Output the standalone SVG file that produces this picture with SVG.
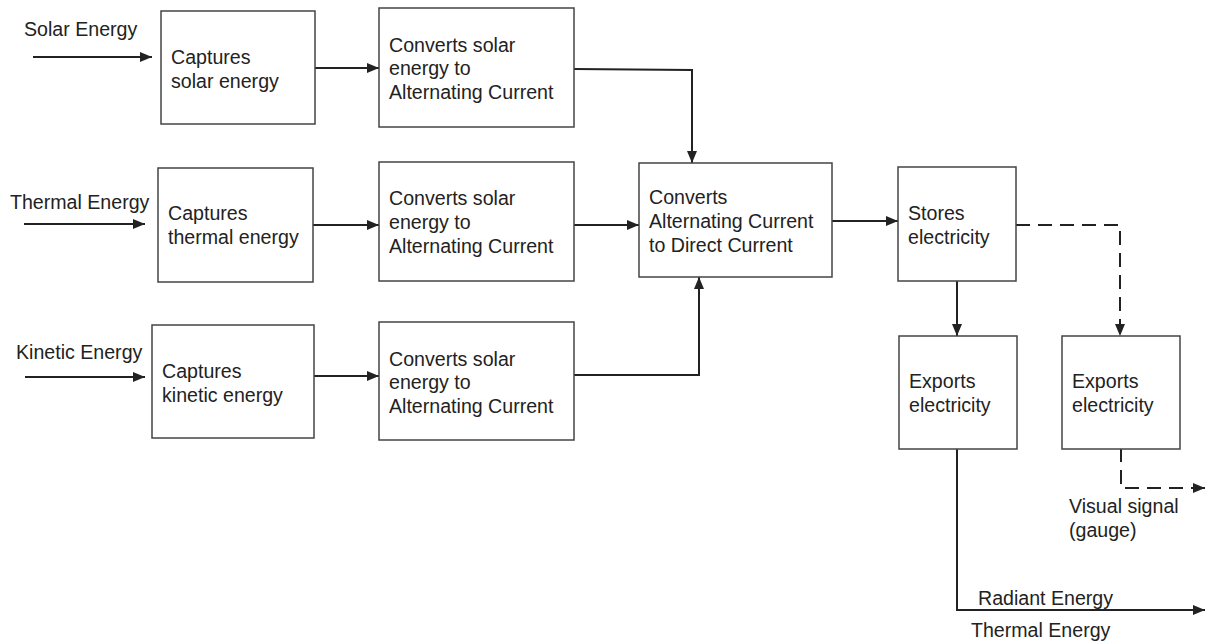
<svg xmlns="http://www.w3.org/2000/svg" width="1208" height="642" viewBox="0 0 1208 642">
<style>
.box{fill:#fff;stroke:#444;stroke-width:1.5}
.t{font-family:"Liberation Sans",Arial,sans-serif;font-size:19.6px;fill:#222}
.c{fill:none;stroke:#222;stroke-width:2}
.d{fill:none;stroke:#222;stroke-width:2;stroke-dasharray:14 8}
</style>
<defs>
<marker id="ah" viewBox="0 0 12 10" refX="12" refY="5" markerWidth="12" markerHeight="10" markerUnits="userSpaceOnUse" orient="auto">
<path d="M0,0 L12,5 L0,10 z" fill="#222"/>
</marker>
</defs>
<rect width="1208" height="642" fill="#fff"/>
<g id="labels">
<text class="t" x="24" y="36">Solar Energy</text>
<text class="t" x="10" y="209">Thermal Energy</text>
<text class="t" x="16" y="359">Kinetic Energy</text>
<text class="t" x="978" y="605">Radiant Energy</text>
<text class="t" x="971" y="637">Thermal Energy</text>
<text class="t" x="1069" y="513">Visual signal</text>
<text class="t" x="1069" y="537">(gauge)</text>
</g>
<g id="connectors">
<path class="c" d="M33,57 H152" marker-end="url(#ah)"/>
<path class="c" d="M24,224 H145" marker-end="url(#ah)"/>
<path class="c" d="M25,377 H145" marker-end="url(#ah)"/>
<path class="c" d="M315,68 H379" marker-end="url(#ah)"/>
<path class="c" d="M313,225 H379" marker-end="url(#ah)"/>
<path class="c" d="M314,376 H379" marker-end="url(#ah)"/>
<path class="c" d="M574,69 L692,70 V163" marker-end="url(#ah)"/>
<path class="c" d="M574,225 H639" marker-end="url(#ah)"/>
<path class="c" d="M574,375 H699 V277" marker-end="url(#ah)"/>
<path class="c" d="M832,221 H898" marker-end="url(#ah)"/>
<path class="c" d="M957,281 V336" marker-end="url(#ah)"/>
<path class="d" d="M1016,225 H1120 V336" marker-end="url(#ah)"/>
<path class="c" d="M957,449 V610 H1205" marker-end="url(#ah)"/>
<path class="d" d="M1121,448 V488 H1205" marker-end="url(#ah)"/>
</g>
<g id="capSolar"><rect class="box" x="161" y="11" width="154" height="113"/>
<text class="t" x="171" y="64">Captures</text><text class="t" x="171" y="88">solar energy</text></g>
<g id="convSolar"><rect class="box" x="379" y="8" width="195" height="119"/>
<text class="t" x="389" y="52">Converts solar</text><text class="t" x="389" y="75">energy to</text><text class="t" x="389" y="99">Alternating Current</text></g>
<g id="capThermal"><rect class="box" x="158" y="168" width="155" height="114"/>
<text class="t" x="168" y="220">Captures</text><text class="t" x="168" y="244">thermal energy</text></g>
<g id="convThermal"><rect class="box" x="379" y="162" width="195" height="119"/>
<text class="t" x="389" y="205">Converts solar</text><text class="t" x="389" y="229">energy to</text><text class="t" x="389" y="253">Alternating Current</text></g>
<g id="capKinetic"><rect class="box" x="152" y="325" width="162" height="113"/>
<text class="t" x="162" y="378">Captures</text><text class="t" x="162" y="402">kinetic energy</text></g>
<g id="convKinetic"><rect class="box" x="379" y="322" width="195" height="118"/>
<text class="t" x="389" y="366">Converts solar</text><text class="t" x="389" y="389">energy to</text><text class="t" x="389" y="413">Alternating Current</text></g>
<g id="acdc"><rect class="box" x="639" y="163" width="193" height="114"/>
<text class="t" x="649" y="204">Converts</text><text class="t" x="649" y="228">Alternating Current</text><text class="t" x="649" y="252">to Direct Current</text></g>
<g id="store"><rect class="box" x="898" y="167" width="118" height="114"/>
<text class="t" x="908" y="220">Stores</text><text class="t" x="908" y="244">electricity</text></g>
<g id="export1"><rect class="box" x="899" y="336" width="118" height="113"/>
<text class="t" x="909" y="388">Exports</text><text class="t" x="909" y="412">electricity</text></g>
<g id="export2"><rect class="box" x="1062" y="336" width="118" height="113"/>
<text class="t" x="1072" y="388">Exports</text><text class="t" x="1072" y="412">electricity</text></g>
</svg>
